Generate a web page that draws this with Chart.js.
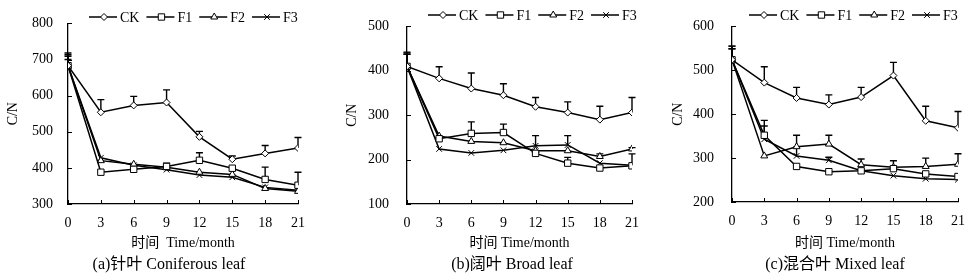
<!DOCTYPE html>
<html>
<head>
<meta charset="utf-8">
<script src="https://cdn.jsdelivr.net/npm/chart.js@4.4.1/dist/chart.umd.min.js"></script>
<style>
  html, body { margin: 0; padding: 0; background: #fff; }
  #wrap { position: relative; width: 976px; height: 280px; }
  canvas { position: absolute; top: 0; }
</style>
</head>
<body>
<div id="wrap">
  <canvas id="chartA" width="325" height="280" style="left:0"></canvas>
  <canvas id="chartB" width="325" height="280" style="left:325px"></canvas>
  <canvas id="chartC" width="326" height="280" style="left:650px"></canvas>
</div>
<script>
// months after start
const months = [0, 3, 6, 9, 12, 15, 18, 21];
const seriesNames = ['CK', 'F1', 'F2', 'F3'];

// (a) coniferous leaf
const conifCK = [683, 554, 573, 581, 486, 424, 440, 455];
const conifCKErr = [35, 35, 25, 35, 15, 9, 22, 29];
const conifF1 = [683, 388, 396, 404, 421, 399, 368, 352];
const conifF1Err = [26, 0, 0, 9, 21, 0, 34, 36];
const conifF2 = [683, 420, 410, 402, 388, 382, 343, 335];
const conifF2Err = [17, 0, 0, 0, 0, 0, 0, 0];
const conifF3 = [683, 428, 407, 395, 380, 374, 346, 338];
const conifF3Err = [30, 0, 0, 0, 0, 0, 0, 0];

// (b) broad leaf
const broadCK = [410, 383, 360, 345, 319, 306, 290, 306];
const broadCKErr = [32, 26, 35, 26, 21, 24, 30, 34];
const broadF1 = [410, 247, 259, 261, 214, 192, 181, 186];
const broadF1Err = [27, 0, 26, 19, 0, 13, 0, 0];
const broadF2 = [410, 253, 241, 238, 220, 220, 207, 224];
const broadF2Err = [27, 0, 0, 0, 0, 0, 6, 3];
const broadF3 = [410, 224, 215, 221, 231, 233, 192, 187];
const broadF3Err = [30, 0, 0, 0, 23, 21, 0, 26];

// (c) mixed leaf
const mixedCK = [524, 472, 437, 422, 439, 488, 385, 369];
const mixedCKErr = [31, 36, 24, 22, 22, 30, 33, 37];
const mixedF1 = [524, 352, 281, 269, 271, 276, 264, 258];
const mixedF1Err = [25, 34, 0, 0, 0, 0, 0, 0];
const mixedF2 = [524, 305, 326, 332, 285, 279, 281, 286];
const mixedF2Err = [25, 0, 26, 20, 13, 15, 19, 24];
const mixedF3 = [524, 343, 305, 295, 271, 260, 253, 251];
const mixedF3Err = [31, 30, 20, 7, 0, 0, 0, 0];

const FONT = '"Liberation Serif", "Noto Sans CJK SC", serif';
Chart.defaults.font.family = FONT;
Chart.defaults.font.size = 14;
Chart.defaults.color = '#000';

const markerStyles = [
  { pointStyle: 'rectRot', radius: 3.5 },
  { pointStyle: 'rect', radius: 4.5 },
  { pointStyle: 'triangle', radius: 4 },
  { pointStyle: 'crossRot', radius: 4 }
];

// upward error whiskers, drawn under the markers
const errorBars = {
  id: 'errorBars',
  beforeDatasetsDraw(chart) {
    const { ctx } = chart;
    const xs = chart.scales.x, ys = chart.scales.y;
    ctx.save();
    ctx.strokeStyle = '#000';
    ctx.lineWidth = 1.4;
    chart.data.datasets.forEach(ds => {
      ds.data.forEach((pt, i) => {
        const e = ds.errors[i];
        if (!e) return;
        const px = xs.getPixelForValue(pt.x);
        const y0 = ys.getPixelForValue(pt.y);
        const y1 = ys.getPixelForValue(pt.y + e);
        ctx.beginPath();
        ctx.moveTo(px, y0);
        ctx.lineTo(px, y1);
        ctx.moveTo(px - 3.5, y1);
        ctx.lineTo(px + 3.5, y1);
        ctx.stroke();
      });
    });
    ctx.restore();
  }
};

// tick marks pointing into the plot
const innerTicks = {
  id: 'innerTicks',
  afterDraw(chart) {
    const { ctx, chartArea } = chart;
    const xs = chart.scales.x, ys = chart.scales.y;
    ctx.save();
    ctx.strokeStyle = '#000';
    ctx.lineWidth = 1;
    ctx.beginPath();
    xs.ticks.forEach(t => {
      const px = Math.round(xs.getPixelForValue(t.value)) + 0.5;
      ctx.moveTo(px, chartArea.bottom);
      ctx.lineTo(px, chartArea.bottom - 4);
    });
    ys.ticks.forEach(t => {
      const py = Math.round(ys.getPixelForValue(t.value)) + 0.5;
      ctx.moveTo(chartArea.left, py);
      ctx.lineTo(chartArea.left + 4, py);
    });
    ctx.stroke();
    ctx.restore();
  }
};

// legend drawn inside the top of the plot
const insideLegend = {
  id: 'insideLegend',
  afterDraw(chart, args, opts) {
    const { ctx, chartArea } = chart;
    let x = chartArea.left + opts.offsetX;
    const yc = opts.y;
    ctx.save();
    ctx.font = '14px ' + FONT;
    ctx.textBaseline = 'middle';
    chart.data.datasets.forEach(ds => {
      ctx.strokeStyle = '#000';
      ctx.lineWidth = 1.5;
      ctx.beginPath();
      ctx.moveTo(x, yc);
      ctx.lineTo(x + 28, yc);
      ctx.stroke();
      ctx.fillStyle = '#fff';
      ctx.lineWidth = 1;
      Chart.helpers.drawPoint(ctx, {
        pointStyle: ds.pointStyle, radius: ds.pointRadius, borderWidth: 1, rotation: 0
      }, x + 15, yc);
      ctx.fillStyle = '#000';
      ctx.fillText(ds.label, x + 31, yc + 1);
      x += 31 + ctx.measureText(ds.label).width + 7;
    });
    ctx.restore();
  }
};

// panel caption under the axis title
const caption = {
  id: 'caption',
  afterDraw(chart, args, opts) {
    const { ctx } = chart;
    ctx.save();
    ctx.font = '16px ' + FONT;
    ctx.fillStyle = '#000';
    ctx.textAlign = 'center';
    ctx.textBaseline = 'middle';
    ctx.fillText(opts.text, opts.x, opts.y);
    ctx.restore();
  }
};

function buildChart(id, p) {
  const datasets = p.series.map((vals, k) => ({
    label: seriesNames[k],
    data: months.map((m, i) => ({ x: m, y: vals[i] })),
    errors: p.errors[k],
    borderColor: '#000',
    borderWidth: 1.5,
    pointStyle: markerStyles[k].pointStyle,
    pointRadius: markerStyles[k].radius,
    pointBackgroundColor: '#fff',
    pointBorderColor: '#000',
    pointBorderWidth: 1,
    tension: 0
  }));
  return new Chart(document.getElementById(id), {
    type: 'line',
    data: { datasets },
    plugins: [errorBars, innerTicks, insideLegend, caption],
    options: {
      responsive: false,
      animation: false,
      devicePixelRatio: 1,
      layout: { padding: { left: 0, right: p.padRight, top: p.padTop, bottom: 28 } },
      plugins: {
        legend: { display: false },
        tooltip: { enabled: false },
        title: { display: false },
        insideLegend: { offsetX: p.legendX, y: p.legendY },
        caption: { text: p.caption, x: p.captionX, y: 265 }
      },
      scales: {
        x: {
          type: 'linear',
          min: 0, max: 21,
          ticks: { stepSize: 3, padding: 11, font: { size: 14 } },
          grid: { display: false, drawTicks: false },
          border: { display: true, color: '#000', width: 1.3 },
          title: { display: true, text: p.xTitle, font: { size: 14 }, padding: { top: 0, bottom: 0 } },
          afterFit(s) { s.height = p.xHeight; }
        },
        y: {
          type: 'linear',
          min: p.yMin, max: p.yMax,
          ticks: { stepSize: 100, padding: p.tickPad, font: { size: 14 } },
          grid: { display: false, drawTicks: false },
          border: { display: true, color: '#000', width: 1.3 },
          title: { display: true, text: 'C/N', font: { size: 14 }, padding: { top: p.yTitlePad, bottom: 0 } },
          afterFit(s) { s.width = p.yWidth; }
        }
      }
    }
  });
}

buildChart('chartA', {
  series: [conifCK, conifF1, conifF2, conifF3],
  errors: [conifCKErr, conifF1Err, conifF2Err, conifF3Err],
  yMin: 300, yMax: 800,
  caption: '(a)针叶 Coniferous leaf', xTitle: '时间  Time/month', captionX: 169,
  padRight: 27, padTop: 14, yWidth: 68, xHeight: 48,
  tickPad: 15, yTitlePad: 5, legendX: 21, legendY: 17
});
buildChart('chartB', {
  series: [broadCK, broadF1, broadF2, broadF3],
  errors: [broadCKErr, broadF1Err, broadF2Err, broadF3Err],
  yMin: 100, yMax: 500,
  caption: '(b)阔叶 Broad leaf', xTitle: '时间 Time/month', captionX: 187,
  padRight: 13, padTop: 10, yWidth: 82, xHeight: 48,
  tickPad: 18, yTitlePad: 19, legendX: 21, legendY: 15
});
buildChart('chartC', {
  series: [mixedCK, mixedF1, mixedF2, mixedF3],
  errors: [mixedCKErr, mixedF1Err, mixedF2Err, mixedF3Err],
  yMin: 200, yMax: 600,
  caption: '(c)混合叶 Mixed leaf', xTitle: '时间 Time/month', captionX: 185,
  padRight: 14, padTop: 10, yWidth: 82, xHeight: 50,
  tickPad: 18, yTitlePad: 20, legendX: 17, legendY: 15
});
</script>
</body>
</html>
